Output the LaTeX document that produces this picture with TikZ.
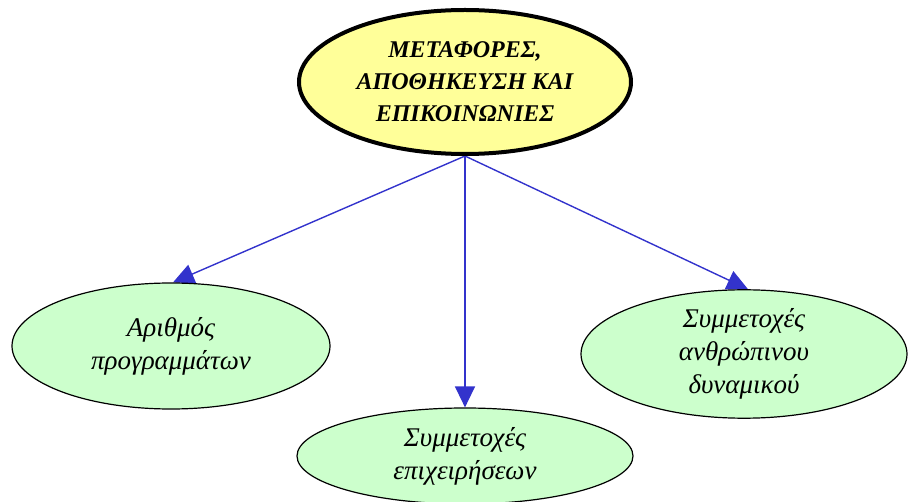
\documentclass[tikz,border=0pt]{standalone}
\usepackage{fontspec}
\setmainfont{Liberation Serif}
\usetikzlibrary{shapes.geometric,arrows.meta,calc,backgrounds}
\definecolor{topfill}{HTML}{FFFF99}
\definecolor{leaffill}{HTML}{CCFFCC}
\definecolor{arrowblue}{HTML}{3333CC}
\tikzset{
  topbox/.style={ellipse, draw=black, line width=4pt, fill=topfill, inner sep=0pt,
    minimum width=332pt, minimum height=144pt, align=center,
    font=\fontsize{24}{32}\selectfont\bfseries\itshape},
  leafbox/.style={ellipse, draw=black, line width=1.2pt, fill=leaffill, inner sep=0pt,
    align=center, font=\fontsize{27}{33}\selectfont\itshape},
  conn/.style={draw=arrowblue, line width=1.4pt, -{Triangle[length=21pt,width=20pt]}}
}
\begin{document}
\begin{tikzpicture}[x=1pt,y=1pt]
\useasboundingbox (0,0) rectangle (908,-502);
\node[topbox] (top) at (465,-82) {ΜΕΤΑΦΟΡΕΣ,\\ΑΠΟΘΗΚΕΥΣΗ ΚΑΙ\\ΕΠΙΚΟΙΝΩΝΙΕΣ};
\node[leafbox, minimum width=318pt, minimum height=126pt] (left) at (171,-346) {Αριθμός\\προγραμμάτων};
\node[leafbox, minimum width=336pt, minimum height=96pt] (mid) at (465,-456) {Συμμετοχές\\επιχειρήσεων};
\node[leafbox, minimum width=326pt, minimum height=114pt] (right) at (744,-354) {Συμμετοχές\\ανθρώπινου\\δυναμικού};
\begin{pgfonlayer}{background}
\draw[conn] (top.south) -- ($(left.north)+(2,0)$);
\draw[conn] (top.south) -- (mid.north);
\draw[conn] (top.south) -- ($(right.north)+(4,0)$);
\end{pgfonlayer}
\end{tikzpicture}
\end{document}
